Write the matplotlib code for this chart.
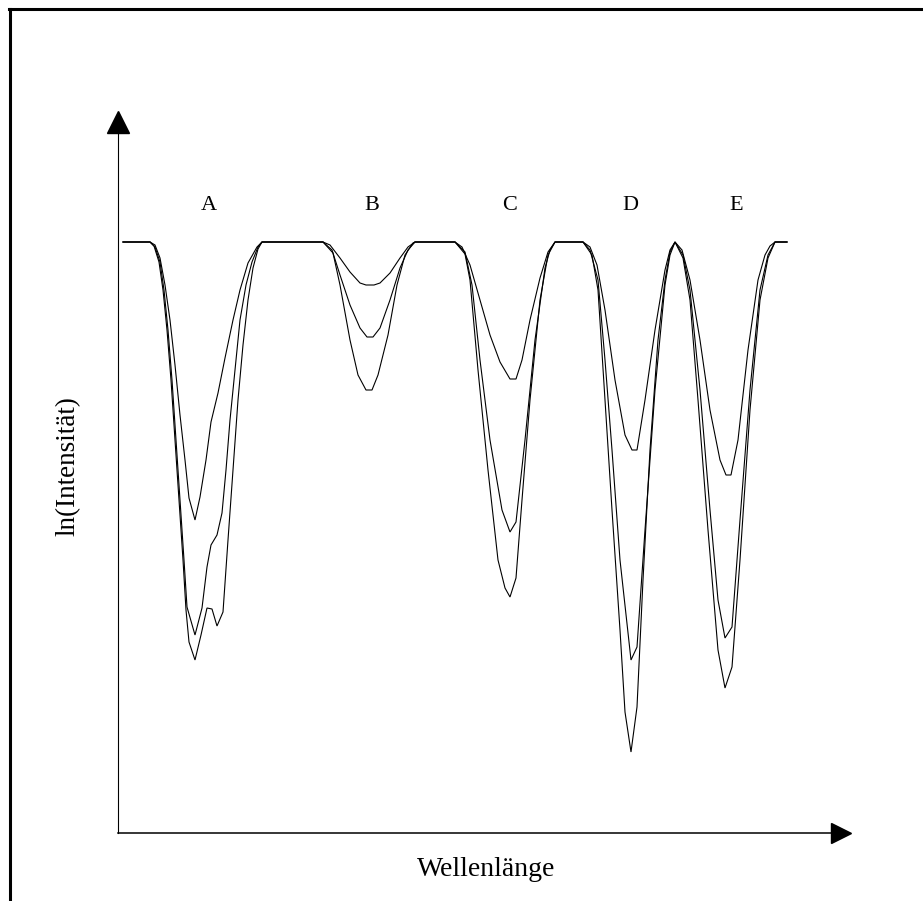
import matplotlib
matplotlib.use("Agg")
import matplotlib.pyplot as plt
from matplotlib.lines import Line2D

plt.rcParams["font.family"] = ["Liberation Serif", "DejaVu Serif"]

# Absorption lines A-E, three concentrations (weak, medium, strong)
labels = ["A", "B", "C", "D", "E"]
label_x = [91, 254, 392, 512, 618]
label_y = 628

weak_x = [5, 32, 37, 42, 47, 52, 57, 62, 67, 71, 77, 82, 88, 93, 100, 107, 115, 122, 130, 139, 144,
          205, 212, 222, 232, 242, 248, 256, 262, 272, 282, 290, 297,
          337, 344, 352, 362, 372, 382, 392, 398, 404, 412, 422, 430, 437,
          465, 472, 479, 487, 497, 507, 514, 519, 527, 537, 547, 552, 557,
          564, 572, 582, 592, 602, 608, 613, 620, 630, 640, 647, 652, 657, 669]
weak_y = [591, 591, 588, 575, 548, 513, 468, 418, 373, 335, 313, 336, 373, 411, 440, 475, 513, 543, 570, 586, 591,
          591, 588, 575, 561, 550, 548, 548, 550, 560, 575, 586, 591,
          591, 586, 568, 533, 498, 471, 454, 454, 473, 513, 555, 581, 591,
          591, 586, 568, 523, 453, 398, 383, 383, 433, 503, 563, 583, 591,
          583, 553, 493, 423, 373, 358, 358, 393, 483, 553, 578, 587, 591, 591]

medium_x = [5, 32, 37, 42, 46, 50, 54, 58, 62, 66, 69, 77, 84, 89, 93, 99, 104, 108, 112, 117, 122, 128, 134, 140, 144,
            205, 214, 222, 232, 242, 249, 255, 262, 272, 282, 290, 297,
            337, 347, 354, 362, 372, 384, 392, 398, 407, 417, 427, 432, 437,
            465, 472, 480, 487, 494, 502, 513, 519, 527, 537, 547, 552, 557,
            565, 572, 582, 592, 600, 607, 614, 622, 632, 642, 650, 657, 669]
medium_y = [591, 591, 586, 571, 543, 503, 453, 393, 333, 273, 226, 198, 225, 266, 288, 298, 320, 363, 413, 463, 513, 548, 571, 586, 591,
            591, 583, 558, 528, 505, 496, 496, 505, 533, 565, 583, 591,
            591, 581, 548, 473, 393, 323, 301, 311, 393, 493, 565, 583, 591,
            591, 583, 553, 473, 383, 273, 173, 186, 303, 443, 548, 578, 591,
            578, 543, 443, 323, 233, 195, 206, 313, 443, 543, 578, 591, 591]

strong_x = [5, 32, 36, 41, 45, 49, 53, 57, 61, 65, 68, 71, 77, 83, 89, 94, 99, 105, 110, 115, 120, 125, 130, 135, 140, 144,
            205, 215, 222, 232, 240, 248, 254, 260, 270, 279, 287, 295, 297,
            337, 347, 352, 360, 370, 380, 387, 392, 398, 404, 412, 422, 430, 437,
            465, 474, 480, 487, 494, 502, 507, 513, 519, 525, 532, 540, 547, 552, 557,
            565, 572, 580, 590, 600, 607, 614, 622, 632, 642, 650, 657, 669]
strong_y = [591, 591, 587, 571, 543, 503, 453, 393, 333, 273, 223, 191, 173, 198, 225, 224, 207, 221, 293, 363, 433, 488, 533, 565, 584, 591,
            591, 580, 548, 493, 458, 443, 443, 458, 498, 548, 578, 590, 591,
            591, 579, 553, 463, 363, 273, 245, 236, 255, 333, 433, 533, 578, 591,
            591, 578, 543, 433, 323, 203, 121, 81, 126, 253, 383, 493, 553, 581, 591,
            575, 533, 433, 303, 183, 145, 166, 273, 423, 533, 575, 591, 591]

W, H = 923, 901
fig = plt.figure(figsize=(W / 100, H / 100), dpi=100)

# Outer frame (left and top edges)
fig.add_artist(Line2D([10 / W, 10 / W], [0, 1 - 9 / H], color="black", lw=2.2))
fig.add_artist(Line2D([9 / W, 1], [1 - 9 / H, 1 - 9 / H], color="black", lw=2.2))

ax = fig.add_axes([118 / W, 68 / H, 723 / W, 711 / H])
ax.set_xlim(0, 723)
ax.set_ylim(0, 711)
for side in ("top", "right"):
    ax.spines[side].set_visible(False)
ax.spines["left"].set_linewidth(0.8)
ax.spines["bottom"].set_linewidth(1.1)
ax.set_xticks([])
ax.set_yticks([])
ax.set_facecolor("none")

# Arrow heads at the ends of both axes
ax.plot(1, 0, ">", color="black", markersize=15, transform=ax.transAxes, clip_on=False)
ax.plot(0, 1, "^", color="black", markersize=16, transform=ax.transAxes, clip_on=False)

for xs, ys in ((weak_x, weak_y), (medium_x, medium_y), (strong_x, strong_y)):
    ax.plot(xs, ys, color="black", lw=0.8, solid_joinstyle="miter")

for lab, lx in zip(labels, label_x):
    ax.text(lx, label_y, lab, ha="center", va="center", fontsize=16)

fig.text(486 / W, 1 - 870 / H, "Wellenlänge", ha="center", va="center", fontsize=20)
fig.text(68 / W, 1 - 466 / H, "ln(Intensität)", ha="center", va="center", fontsize=19.5, rotation=90)

fig.savefig("out.png", dpi=100)
